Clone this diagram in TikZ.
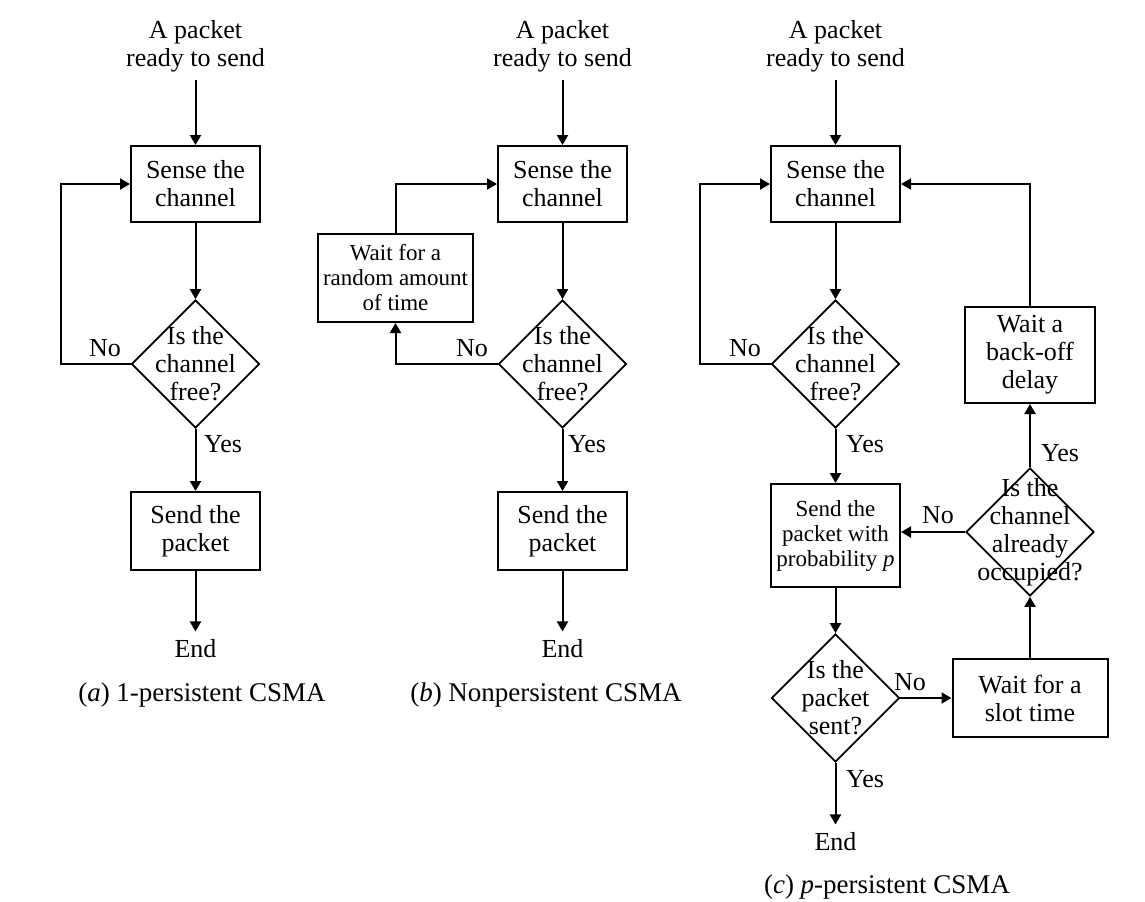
\documentclass[tikz,border=0pt]{standalone}
\usepackage{fontspec}
\setmainfont{Liberation Serif}
\usetikzlibrary{arrows.meta,shapes.geometric}

\begin{document}
\begin{tikzpicture}[x=0.5pt,y=0.5pt,yscale=-1,xscale=1,
  font=\fontsize{13}{14}\selectfont,
  every node/.style={align=center},
  proc/.style={draw,line width=1pt,inner sep=0pt,minimum width=64.5pt,minimum height=38pt},
  small/.style={font=\fontsize{11.5}{12.5}\selectfont},
  caption/.style={font=\fontsize{13.5}{14}\selectfont},
  decision/.style={draw,diamond,line width=0.85pt,inner sep=0pt,minimum width=64pt,minimum height=64pt},
  term/.style={inner sep=4pt},
  flow/.style={line width=1pt,-{Triangle[length=5pt,width=5.5pt]}},
  tag/.style={inner sep=0pt}
]
\useasboundingbox (0,0) rectangle (1145,901);

%Flow chart (a)
\node[term] (a_start) at (195.5,46) {A packet\\ready to send};
\node[proc] (a_sense) at (195.5,184) {Sense the\\channel};
\node[decision,label={center:Is the\\channel\\free?}] (a_free) at (195.5,364) {};
\node[proc,minimum height=39pt] (a_send) at (195.5,531) {Send the\\packet};
\node[term] (a_end) at (195.5,649) {End};
\node[caption] (a_cap) at (202,695) {(\textit{a}) 1-persistent CSMA};
\node[tag] (a_no) at (105,348) {No};
\node[tag] (a_yes) at (223,444) {Yes};

\draw[flow] (a_start) -- (a_sense);
\draw[flow] (a_sense) -- (a_free);
\draw[flow] (a_free) -- (a_send);
\draw[flow] (a_send) -- (a_end);
\draw[flow] (a_free.west) -- ++(-70,0) |- (a_sense.west);

%Flow chart (b)
\node[term] (b_start) at (562.5,46) {A packet\\ready to send};
\node[proc] (b_sense) at (562.5,184) {Sense the\\channel};
\node[proc,small,minimum width=77.5pt,minimum height=44pt] (b_wait) at (395.5,278) {Wait for a\\random amount\\of time};
\node[decision,label={center:Is the\\channel\\free?}] (b_free) at (562.5,364) {};
\node[proc,minimum height=39pt] (b_send) at (562.5,531) {Send the\\packet};
\node[term] (b_end) at (562.5,649) {End};
\node[caption] (b_cap) at (546,695) {(\textit{b}) Nonpersistent CSMA};
\node[tag] (b_no) at (472,348) {No};
\node[tag] (b_yes) at (587,444) {Yes};

\draw[flow] (b_start) -- (b_sense);
\draw[flow] (b_sense) -- (b_free);
\draw[flow] (b_free) -- (b_send);
\draw[flow] (b_send) -- (b_end);
\draw[flow] (b_free.west) -| (b_wait.south);
\draw[flow] (b_wait.north) |- (b_sense.west);

%Flow chart (c)
\node[term] (c_start) at (835.5,46) {A packet\\ready to send};
\node[proc] (c_sense) at (835.5,184) {Sense the\\channel};
\node[decision,label={center:Is the\\channel\\free?}] (c_free) at (835.5,364) {};
\node[proc,small,minimum height=51.5pt] (c_sendp) at (835.5,535.5) {Send the\\packet with\\probability \textit{p}};
\node[decision,label={center:Is the\\packet\\sent?}] (c_sent) at (835.5,698) {};
\node[term] (c_end) at (835.5,842) {End};
\node[proc,minimum width=77.5pt,minimum height=39pt] (c_slot) at (1030,698) {Wait for a\\slot time};
\node[decision,label={center:Is the\\channel\\already\\occupied?}] (c_busy) at (1030,532) {};
\node[proc,minimum width=65pt,minimum height=48pt] (c_backoff) at (1030,355) {Wait a\\back-off\\delay};
\node[caption] (c_cap) at (887,887) {(\textit{c}) \textit{p}-persistent CSMA};
\node[tag] (c_no1) at (745,348) {No};
\node[tag] (c_yes1) at (865,444) {Yes};
\node[tag] (c_yes2) at (1060,453) {Yes};
\node[tag] (c_no2) at (938,515) {No};
\node[tag] (c_no3) at (910,682) {No};
\node[tag] (c_yes3) at (865,779) {Yes};

\draw[flow] (c_start) -- (c_sense);
\draw[flow] (c_sense) -- (c_free);
\draw[flow] (c_free.west) -- ++(-71,0) |- (c_sense.west);
\draw[flow] (c_free) -- (c_sendp);
\draw[flow] (c_sendp) -- (c_sent);
\draw[flow] (c_sent) -- (c_end);
\draw[flow] (c_sent.east) -- (c_slot.west);
\draw[flow] (c_slot.north) -- (c_busy.south);
\draw[flow] (c_busy.north) -- (c_backoff.south);
\draw[flow] (c_busy.west) -- (c_busy.west -| c_sendp.east);
\draw[flow] (c_backoff.north) |- (c_sense.east);

\end{tikzpicture}
\end{document}
